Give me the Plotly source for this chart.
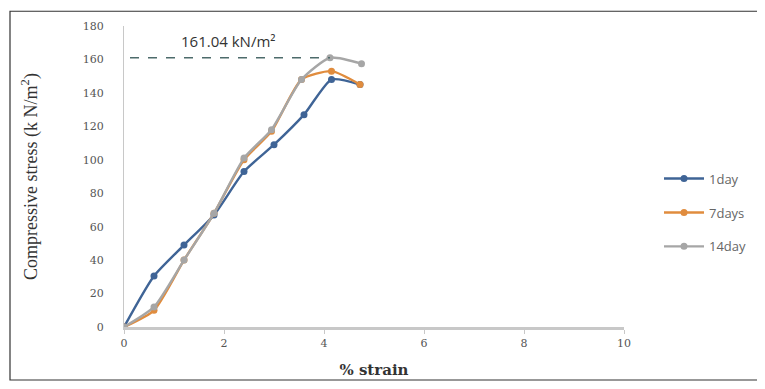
import plotly.graph_objects as go

strain_1 = [0, 0.6, 1.2, 1.8, 2.4, 3.0, 3.6, 4.15, 4.72]
stress_1 = [0, 30.5, 49, 67, 93, 109, 127, 148, 145]
strain_7 = [0, 0.6, 1.2, 1.8, 2.4, 2.95, 3.55, 4.15, 4.72]
stress_7 = [0, 10, 40, 68, 100, 117, 148, 153, 145]
strain_14 = [0, 0.6, 1.2, 1.8, 2.4, 2.95, 3.55, 4.12, 4.75]
stress_14 = [0, 12, 40, 68, 101, 118, 148, 161.04, 157.5]
peak_value = 161.04
peak_label = "161.04 kN/m²"

series = [
    ("1day", strain_1, stress_1, "#3f6496"),
    ("7days", strain_7, stress_7, "#e08c3e"),
    ("14day", strain_14, stress_14, "#a6a6a6"),
]

fig = go.Figure()
for name, xs, ys, col in series:
    fig.add_trace(go.Scatter(
        x=xs, y=ys, name=name, legendgroup=name, mode="lines+markers",
        line=dict(color=col, width=2.4, shape="spline", smoothing=0.6),
        marker=dict(color=col, size=7, symbol="circle"),
    ))

fig.add_trace(go.Scatter(
    x=[0.12, 4.12], y=[peak_value, peak_value], mode="lines",
    line=dict(color="#4d6b6b", width=1.5, dash="dash"),
    showlegend=False, hoverinfo="skip",
))

fig.add_annotation(x=2.08, y=171, text=peak_label, showarrow=False,
                   font=dict(family="Open Sans, sans-serif", size=15, color="#333"))

fig.add_shape(type="rect", xref="paper", yref="paper",
              x0=-0.228, x1=1.272, y0=-0.176, y1=1.049,
              line=dict(color="#333", width=1.2))

fig.update_layout(
    width=757, height=381,
    margin=dict(l=116, r=141, t=16, b=58),
    paper_bgcolor="white", plot_bgcolor="white",
    legend=dict(x=1.07, y=0.38, xanchor="left", yanchor="middle",
                font=dict(family="Open Sans, sans-serif", size=13, color="#666"),
                tracegroupgap=14, itemwidth=40),
    showlegend=True,
)
fig.update_xaxes(range=[0, 10], tickvals=[0, 2, 4, 6, 8, 10], showgrid=False, zeroline=False,
                 showline=True, linecolor="#c8c8c8", linewidth=3, ticks="outside", ticklen=4,
                 tickcolor="#c8c8c8", tickfont=dict(family="DejaVu Serif, serif", size=11, color="#555"),
                 title=dict(text="<b>% strain</b>", font=dict(family="DejaVu Serif, serif", size=15, color="#333"),
                            standoff=16))
fig.update_yaxes(range=[0, 180], dtick=20, showgrid=False, zeroline=False,
                 showline=True, linecolor="#c8c8c8", linewidth=1, ticks="",
                 ticklabelstandoff=17,
                 tickfont=dict(family="DejaVu Serif, serif", size=11, color="#555"),
                 title=dict(text="Compressive stress (k N/m<sup>2</sup>)",
                            font=dict(family="Liberation Serif, serif", size=18, color="#333"),
                            standoff=40))

fig.write_html("out.html")
